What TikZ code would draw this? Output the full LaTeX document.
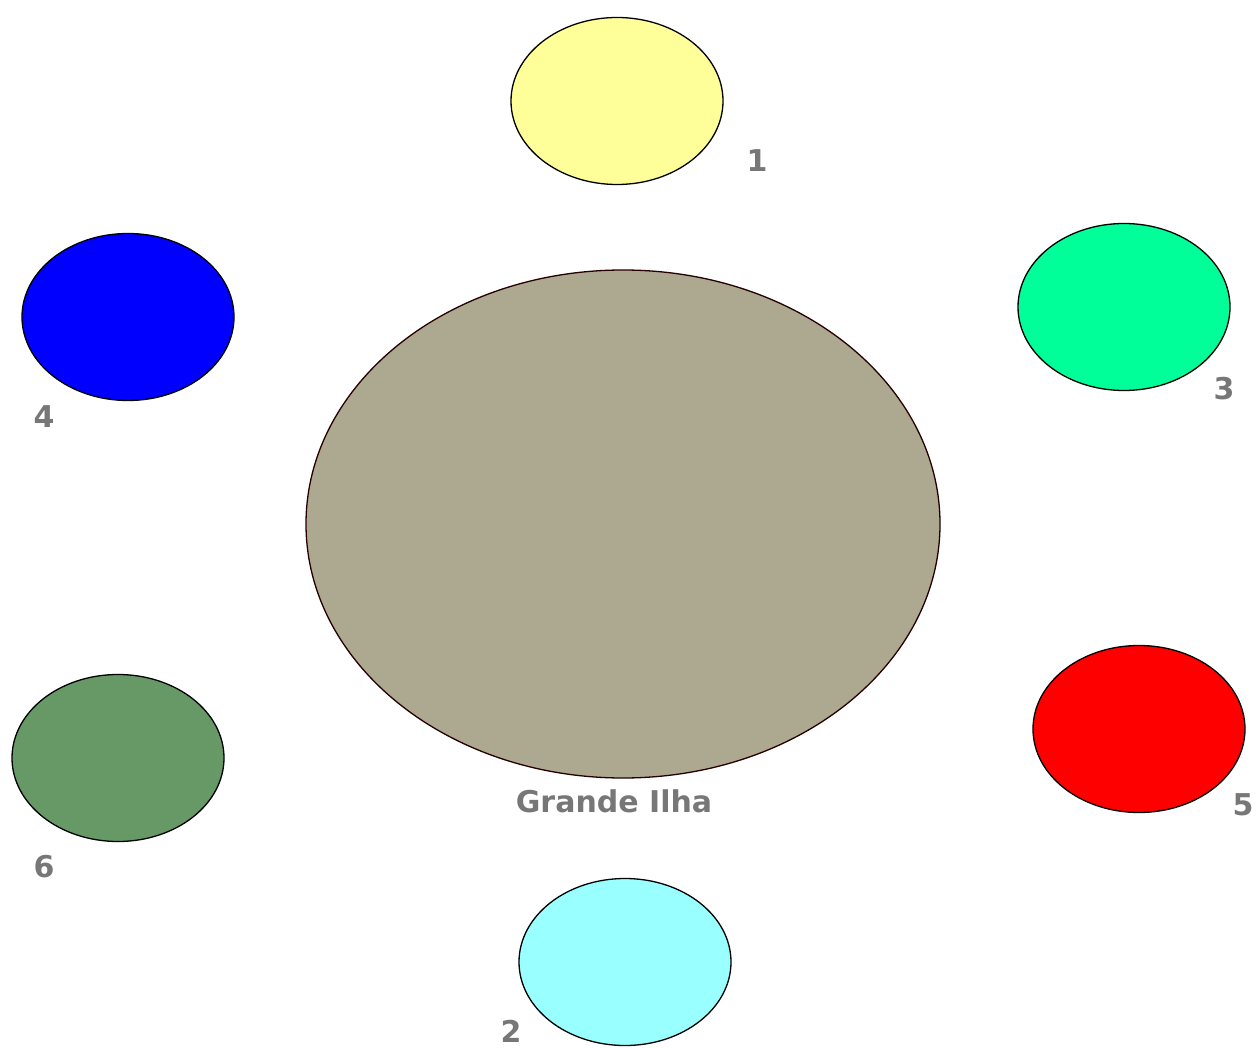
\documentclass[tikz,border=0pt]{standalone}
\usepackage{fontspec}
\setmainfont{DejaVu Sans}
\usetikzlibrary{shapes.geometric}
\definecolor{cyel}{HTML}{FFFF99}
\definecolor{cgrn}{HTML}{00FF99}
\definecolor{cblu}{HTML}{0000FF}
\definecolor{cbig}{HTML}{ADA890}
\definecolor{cred}{HTML}{FF0000}
\definecolor{cdgr}{HTML}{669966}
\definecolor{ccya}{HTML}{99FFFF}
\definecolor{clab}{HTML}{777777}
\tikzset{
  isle/.style={ellipse, draw=black, line width=1.3pt, inner sep=0pt, minimum width=212pt, minimum height=167pt},
  lab/.style={font=\fontsize{30}{30}\selectfont\bfseries, text=clab, inner sep=0pt, anchor=center}
}
\begin{document}
\begin{tikzpicture}[x=1pt,y=-1pt]
\useasboundingbox (0,0) rectangle (1258,1048);
\node[isle, fill=cyel] (i1) at (617,101) {};
\node[isle, fill=cgrn] (i3) at (1124,307) {};
\node[isle, fill=cblu] (i4) at (128,317) {};
\node[ellipse, draw=black!85!red, line width=1.3pt, inner sep=0pt, minimum width=634pt, minimum height=508pt, fill=cbig] (big) at (623,524) {};
\node[isle, fill=cred] (i5) at (1139,729) {};
\node[isle, fill=cdgr] (i6) at (118,758) {};
\node[isle, fill=ccya] (i2) at (625,962) {};
\node[lab] (l1) at (757,161) {1};
\node[lab] (l3) at (1224,389) {3};
\node[lab] (l4) at (44,417) {4};
\node[lab] (l5) at (1243,805) {5};
\node[lab] (l6) at (44,867) {6};
\node[lab] (l2) at (511,1031) {2};
\node[lab] (lg) at (614,801) {Grande Ilha};
\end{tikzpicture}
\end{document}
